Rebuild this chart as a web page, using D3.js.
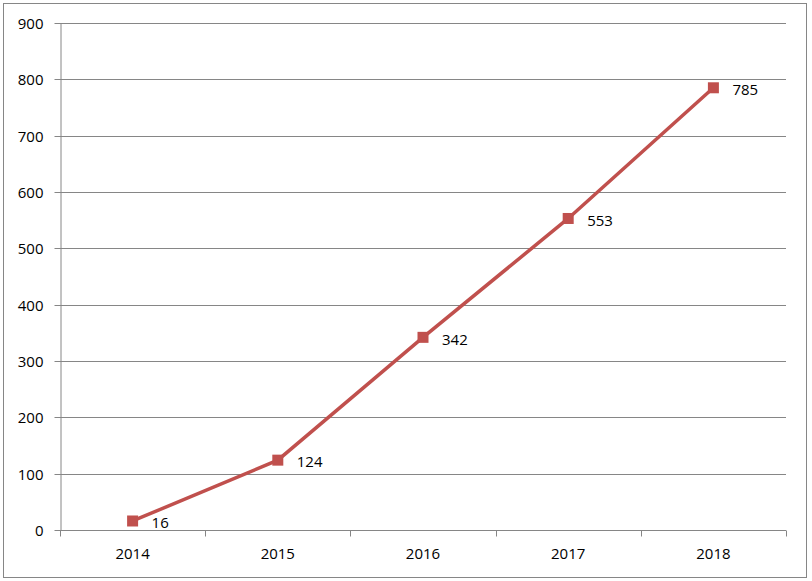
<!DOCTYPE html>
<html>
<head>
<meta charset="utf-8">
<script src="https://cdn.jsdelivr.net/npm/d3@7"></script>
<style>
  body { margin: 0; background: #fff; }
  text { font-family: "Open Sans", "Liberation Sans", sans-serif; font-size: 15px; fill: #000; }
</style>
</head>
<body>
<div id="chart"></div>
<script>
// Chart data
const years = ["2014", "2015", "2016", "2017", "2018"];
const values = [16, 124, 342, 553, 785];
const yTicks = [0, 100, 200, 300, 400, 500, 600, 700, 800, 900];

const W = 812, H = 581;
const margin = { top: 23, right: 26, bottom: 51, left: 60 };
const width = W - margin.left - margin.right;
const height = H - margin.top - margin.bottom;

const root = d3.select("#chart")
    .append("svg")
    .attr("width", W)
    .attr("height", H);

// outer frame
root.append("rect")
    .attr("x", 3.5).attr("y", 3.5)
    .attr("width", 803).attr("height", 574)
    .attr("fill", "none")
    .attr("stroke", "#868686")
    .attr("stroke-width", 1);

const svg = root.append("g")
    .attr("transform", `translate(${margin.left},${margin.top})`);

const x = d3.scaleBand()
    .domain(years)
    .range([0, width]);

const y = d3.scaleLinear()
    .domain([0, 900])
    .range([height, 0]);

// horizontal gridlines
svg.append("g")
    .selectAll("line")
    .data(yTicks.filter(d => d > 0))
    .enter()
    .append("line")
    .attr("x1", 0)
    .attr("x2", width)
    .attr("y1", d => Math.round(y(d)) + 0.5)
    .attr("y2", d => Math.round(y(d)) + 0.5)
    .attr("stroke", "#868686");

// y axis
const yAxis = svg.append("g")
    .attr("transform", "translate(0.5,0)")
    .call(d3.axisLeft(y).tickValues(yTicks).tickSize(6).tickPadding(11).tickSizeOuter(0));
yAxis.selectAll("path, line").attr("stroke", "#868686");
yAxis.selectAll(".tick").attr("transform", d => `translate(0,${Math.round(y(d)) + 0.5})`);
yAxis.selectAll("text").style("font-size", "15px").attr("dy", "0.35em");

// x axis with ticks at category boundaries
const xAxis = svg.append("g")
    .attr("transform", `translate(0,${Math.round(height) + 0.5})`);
xAxis.append("line")
    .attr("x1", 0).attr("x2", width)
    .attr("stroke", "#868686");
xAxis.selectAll(".bound")
    .data(d3.range(years.length + 1))
    .enter()
    .append("line")
    .attr("class", "bound")
    .attr("x1", i => Math.round(i * x.step()) + 0.5)
    .attr("x2", i => Math.round(i * x.step()) + 0.5)
    .attr("y1", 0).attr("y2", 6)
    .attr("stroke", "#868686");
xAxis.selectAll(".lab")
    .data(years)
    .enter()
    .append("text")
    .attr("class", "lab")
    .attr("x", d => x(d) + x.bandwidth() / 2)
    .attr("y", 28)
    .attr("text-anchor", "middle")
    .text(d => d);

const pts = years.map((d, i) => ({ year: d, v: values[i] }));
const cx = d => x(d.year) + x.bandwidth() / 2;

// line
svg.append("path")
    .datum(pts)
    .attr("fill", "none")
    .attr("stroke", "#C0504D")
    .attr("stroke-width", 3.5)
    .attr("d", d3.line().x(cx).y(d => y(d.v)));

// square markers
svg.selectAll(".mk")
    .data(pts)
    .enter()
    .append("rect")
    .attr("class", "mk")
    .attr("x", d => cx(d) - 5.5)
    .attr("y", d => y(d.v) - 5.5)
    .attr("width", 11)
    .attr("height", 11)
    .attr("fill", "#C0504D");

// data labels
svg.selectAll(".dl")
    .data(pts)
    .enter()
    .append("text")
    .attr("class", "dl")
    .attr("x", d => cx(d) + 19)
    .attr("y", d => y(d.v) + 2)
    .attr("dy", "0.35em")
    .text(d => d.v);
</script>
</body>
</html>
